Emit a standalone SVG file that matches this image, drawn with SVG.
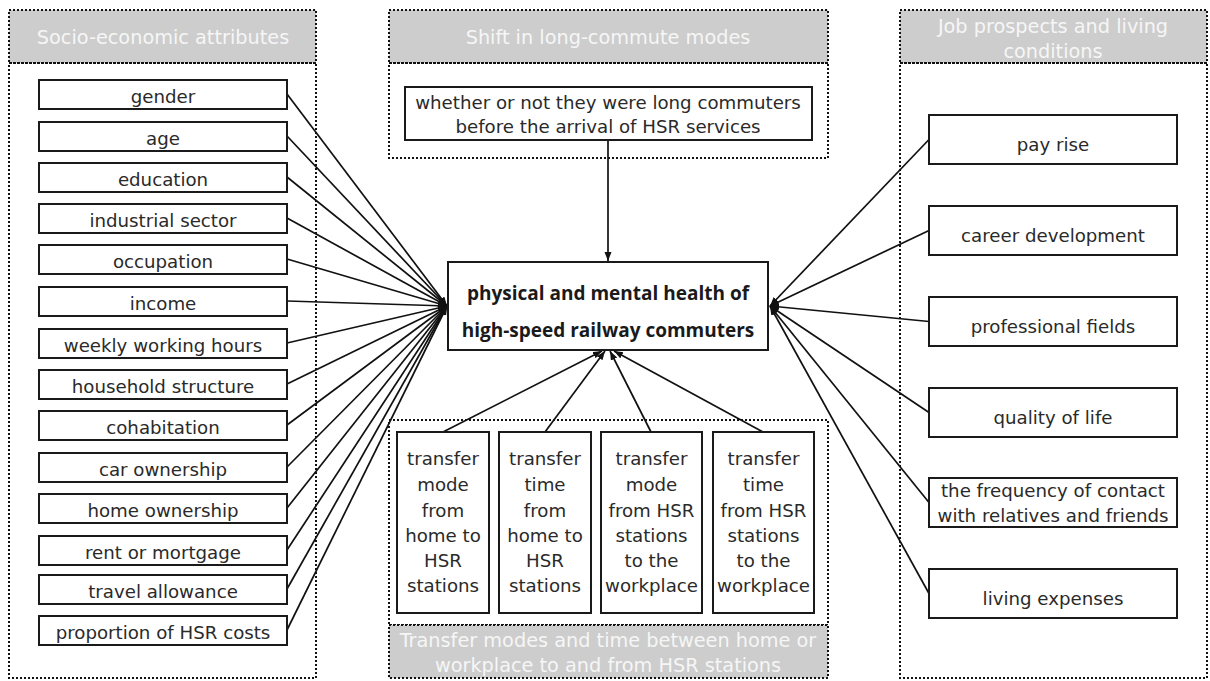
<svg xmlns="http://www.w3.org/2000/svg" width="1210" height="681" viewBox="0 0 1210 681">
<style>
.panel{fill:none;stroke:#111;stroke-width:2;stroke-dasharray:2 2}
.hdr{fill:#cdcdcd;stroke:#111;stroke-width:2;stroke-dasharray:2 2}
.ht{font-family:"DejaVu Sans","Liberation Sans",sans-serif;font-size:19.3px;fill:#f6f6f6;text-anchor:middle}
.box{fill:#fff;stroke:#1a1a1a;stroke-width:2}
.t{font-family:"DejaVu Sans","Liberation Sans",sans-serif;font-size:18.2px;fill:#2a2a2a;text-anchor:middle}
.tb{font-family:"Open Sans","Liberation Sans",sans-serif;font-size:19px;font-weight:bold;fill:#1a1a1a;text-anchor:middle}
.c{stroke:#111;stroke-width:1.7;fill:none;marker-end:url(#ah)}
</style>
<defs>
<marker id="ah" markerUnits="userSpaceOnUse" markerWidth="10" markerHeight="8" refX="9" refY="3.5" orient="auto">
<path d="M0,0 L9,3.5 L0,7 Z" fill="#111"/>
</marker>
</defs>
<rect width="1210" height="681" fill="#fff"/>

<g id="panel-socio">
<rect class="hdr" x="9" y="10" width="307" height="53"/>
<rect class="panel" x="9" y="63" width="307" height="615"/>
<text class="ht" x="163" y="44">Socio-economic attributes</text>
</g>
<g id="panel-shift">
<rect class="hdr" x="389" y="10" width="439" height="53"/>
<rect class="panel" x="389" y="63" width="439" height="95"/>
<text class="ht" x="608" y="44">Shift in long-commute modes</text>
</g>
<g id="panel-transfer">
<rect class="panel" x="389" y="420" width="439" height="205"/>
<rect class="hdr" x="389" y="625" width="439" height="53"/>
<text class="ht" x="608" y="647">Transfer modes and time between home or</text>
<text class="ht" x="608" y="672">workplace to and from HSR stations</text>
</g>
<g id="panel-job">
<rect class="hdr" x="900" y="10" width="307" height="53"/>
<rect class="panel" x="900" y="63" width="307" height="615"/>
<text class="ht" x="1053" y="33">Job prospects and living</text>
<text class="ht" x="1053" y="58">conditions</text>
</g>

<g id="connectors">
<line class="c" x1="287" y1="94" x2="447" y2="306"/>
<line class="c" x1="287" y1="136" x2="447" y2="306"/>
<line class="c" x1="287" y1="177" x2="447" y2="306"/>
<line class="c" x1="287" y1="218" x2="447" y2="306"/>
<line class="c" x1="287" y1="259" x2="447" y2="306"/>
<line class="c" x1="287" y1="301" x2="447" y2="306"/>
<line class="c" x1="287" y1="343" x2="447" y2="306"/>
<line class="c" x1="287" y1="384" x2="447" y2="306"/>
<line class="c" x1="287" y1="425" x2="447" y2="306"/>
<line class="c" x1="287" y1="467" x2="447" y2="306"/>
<line class="c" x1="287" y1="508" x2="447" y2="306"/>
<line class="c" x1="287" y1="550" x2="447" y2="306"/>
<line class="c" x1="287" y1="589" x2="447" y2="306"/>
<line class="c" x1="287" y1="630" x2="447" y2="306"/>
<line class="c" x1="929" y1="139.5" x2="770" y2="306"/>
<line class="c" x1="929" y1="230.5" x2="770" y2="306"/>
<line class="c" x1="929" y1="321.5" x2="770" y2="306"/>
<line class="c" x1="929" y1="412.5" x2="770" y2="306"/>
<line class="c" x1="929" y1="502.5" x2="770" y2="306"/>
<line class="c" x1="929" y1="593.5" x2="770" y2="306"/>
<line class="c" x1="608" y1="140" x2="608" y2="261"/>
<line class="c" x1="443" y1="432" x2="602" y2="351"/>
<line class="c" x1="545" y1="432" x2="605" y2="351"/>
<line class="c" x1="651" y1="432" x2="610" y2="351"/>
<line class="c" x1="763" y1="432" x2="614" y2="351"/>
</g>

<g id="n-gender"><rect class="box" x="39" y="80" width="248" height="29"/><text class="t" x="163" y="103">gender</text></g>
<g id="n-age"><rect class="box" x="39" y="122" width="248" height="29"/><text class="t" x="163" y="145">age</text></g>
<g id="n-education"><rect class="box" x="39" y="163" width="248" height="29"/><text class="t" x="163" y="186">education</text></g>
<g id="n-industrial"><rect class="box" x="39" y="204" width="248" height="29"/><text class="t" x="163" y="227">industrial sector</text></g>
<g id="n-occupation"><rect class="box" x="39" y="245" width="248" height="29"/><text class="t" x="163" y="268">occupation</text></g>
<g id="n-income"><rect class="box" x="39" y="287" width="248" height="29"/><text class="t" x="163" y="310">income</text></g>
<g id="n-weekly"><rect class="box" x="39" y="329" width="248" height="29"/><text class="t" x="163" y="352">weekly working hours</text></g>
<g id="n-household"><rect class="box" x="39" y="370" width="248" height="29"/><text class="t" x="163" y="393">household structure</text></g>
<g id="n-cohabitation"><rect class="box" x="39" y="411" width="248" height="29"/><text class="t" x="163" y="434">cohabitation</text></g>
<g id="n-car"><rect class="box" x="39" y="453" width="248" height="29"/><text class="t" x="163" y="476">car ownership</text></g>
<g id="n-home"><rect class="box" x="39" y="494" width="248" height="29"/><text class="t" x="163" y="517">home ownership</text></g>
<g id="n-rent"><rect class="box" x="39" y="536" width="248" height="29"/><text class="t" x="163" y="559">rent or mortgage</text></g>
<g id="n-travel"><rect class="box" x="39" y="575" width="248" height="29"/><text class="t" x="163" y="598">travel allowance</text></g>
<g id="n-proportion"><rect class="box" x="39" y="616" width="248" height="29"/><text class="t" x="163" y="639">proportion of HSR costs</text></g>

<g id="n-longcommute"><rect class="box" x="405" y="87" width="407" height="53"/>
<text class="t" x="608" y="109">whether or not they were long commuters</text>
<text class="t" x="608" y="133">before the arrival of HSR services</text></g>

<g id="n-health"><rect class="box" x="448" y="262" width="320" height="88"/>
<text class="tb" x="608" y="300">physical and mental health of</text>
<text class="tb" x="608" y="337">high-speed railway commuters</text></g>

<g id="n-payrise"><rect class="box" x="929" y="115" width="248" height="49"/><text class="t" x="1053" y="151">pay rise</text></g>
<g id="n-career"><rect class="box" x="929" y="206" width="248" height="49"/><text class="t" x="1053" y="242">career development</text></g>
<g id="n-professional"><rect class="box" x="929" y="297" width="248" height="49"/><text class="t" x="1053" y="333">professional fields</text></g>
<g id="n-quality"><rect class="box" x="929" y="388" width="248" height="49"/><text class="t" x="1053" y="424">quality of life</text></g>
<g id="n-frequency"><rect class="box" x="929" y="478" width="248" height="49"/>
<text class="t" x="1053" y="497">the frequency of contact</text>
<text class="t" x="1053" y="522">with relatives and friends</text></g>
<g id="n-living"><rect class="box" x="929" y="569" width="248" height="49"/><text class="t" x="1053" y="605">living expenses</text></g>

<g id="n-tm-home"><rect class="box" x="397" y="432" width="92" height="181"/>
<text class="t" x="443"><tspan x="443" y="465">transfer</tspan><tspan x="443" y="491">mode</tspan><tspan x="443" y="517">from</tspan><tspan x="443" y="542">home to</tspan><tspan x="443" y="567">HSR</tspan><tspan x="443" y="592">stations</tspan></text></g>
<g id="n-tt-home"><rect class="box" x="499" y="432" width="92" height="181"/>
<text class="t" x="545"><tspan x="545" y="465">transfer</tspan><tspan x="545" y="491">time</tspan><tspan x="545" y="517">from</tspan><tspan x="545" y="542">home to</tspan><tspan x="545" y="567">HSR</tspan><tspan x="545" y="592">stations</tspan></text></g>
<g id="n-tm-work"><rect class="box" x="601" y="432" width="101" height="181"/>
<text class="t" x="651.5"><tspan x="651.5" y="465">transfer</tspan><tspan x="651.5" y="491">mode</tspan><tspan x="651.5" y="517">from HSR</tspan><tspan x="651.5" y="542">stations</tspan><tspan x="651.5" y="567">to the</tspan><tspan x="651.5" y="592">workplace</tspan></text></g>
<g id="n-tt-work"><rect class="box" x="713" y="432" width="101" height="181"/>
<text class="t" x="763.5"><tspan x="763.5" y="465">transfer</tspan><tspan x="763.5" y="491">time</tspan><tspan x="763.5" y="517">from HSR</tspan><tspan x="763.5" y="542">stations</tspan><tspan x="763.5" y="567">to the</tspan><tspan x="763.5" y="592">workplace</tspan></text></g>
</svg>
